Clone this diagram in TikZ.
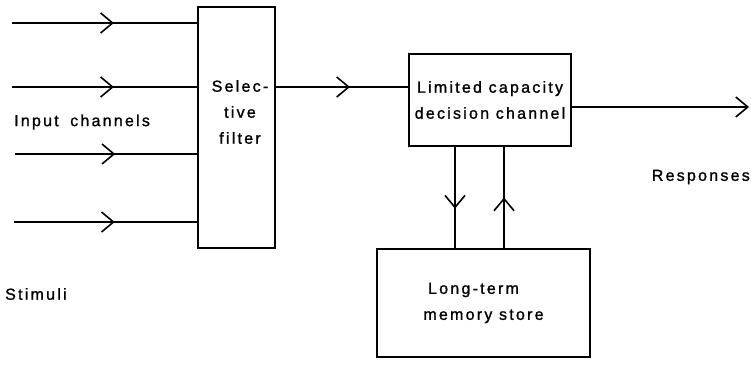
\documentclass[tikz,border=0pt]{standalone}
\usepackage{fontspec}
\setmainfont{Liberation Sans}[LetterSpace=14,FakeBold=1.2]
\usetikzlibrary{arrows.meta,decorations.markings}
\tikzstyle{box}=[draw=black,line width=1.6pt,inner sep=0pt,font=\fontsize{16}{26}\selectfont,align=center]
\tikzstyle{txt}=[font=\fontsize{16}{26}\selectfont,inner sep=0pt]
\tikzset{chan/.style={line width=1.6pt,postaction={decorate},
  decoration={markings,mark=at position #1 with {\arrow{Straight Barb[length=12pt,width=20pt]}}}},
  chan/.default=0.55}

\begin{document}
\begin{tikzpicture}[x=1pt,y=-1pt]
  \useasboundingbox (0,0) rectangle (751,369);
  % boxes
  \node[box,minimum width=77pt,minimum height=241pt] (filter) at (236.5,127.5) {};
  \node[txt,align=center] (filtertext) at (240,112) {Selec-\\tive\\filter};
  \node[box,minimum width=162pt,minimum height=92pt] (decision) at (490,100) {Limited capacity\\decision channel};
  \node[box,minimum width=213pt,minimum height=108pt] (memory) at (483.5,303) {Long-term\hspace*{20pt}\\memory store};
  % input channels
  \foreach \i/\x/\y in {1/12/23,2/12/87,3/15/154,4/14/222}{
    \coordinate (in\i) at (\x,\y);
    \draw[chan] (in\i) -- (filter.west |- in\i);
  }
  \draw[chan=0.56] (filter.east |- in2) -- (decision.west |- in2);
  % responses
  \coordinate (out) at (749,107);
  \draw[line width=1.6pt,-{Straight Barb[length=12pt,width=20pt]}] (decision.east |- out) -- (out);
  % memory links
  \coordinate (down) at (455,0);
  \coordinate (up) at (504,0);
  \draw[chan=0.61] (decision.south -| down) -- (memory.north -| down);
  \draw[chan=0.5] (memory.north -| up) -- (decision.south -| up);
  % labels
  \node[txt,anchor=west] (inputs) at (14,122) {Input\hspace{0.3em} channels};
  \node[txt,anchor=west] (stimuli) at (5,294) {Stimuli};
  \node[txt,anchor=east] (responses) at (750,177) {Responses};
\end{tikzpicture}
\end{document}
